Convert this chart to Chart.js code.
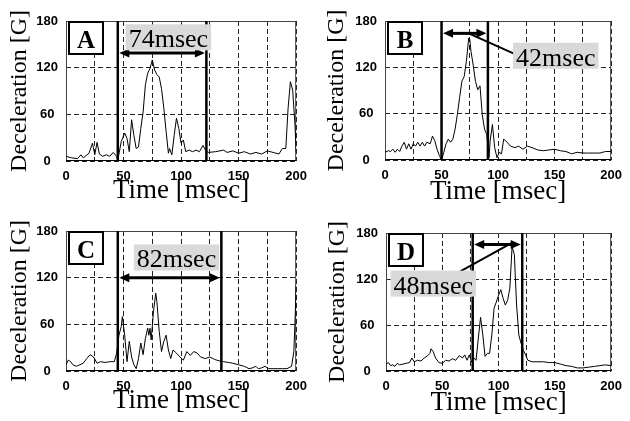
<!DOCTYPE html>
<html>
<head>
<meta charset="utf-8">
<script src="https://cdn.jsdelivr.net/npm/chart.js@4.4.1/dist/chart.umd.min.js"></script>
<style>
  html, body { margin: 0; padding: 0; background: #fff; }
  #wrap { position: relative; width: 630px; height: 421px; overflow: hidden; }
  canvas { position: absolute; }
</style>
</head>
<body>
<div id="wrap">
  <canvas id="chart-a" width="315" height="210" style="left:0;top:0"></canvas>
  <canvas id="chart-b" width="315" height="210" style="left:315px;top:0"></canvas>
  <canvas id="chart-c" width="315" height="211" style="left:0;top:210px"></canvas>
  <canvas id="chart-d" width="315" height="211" style="left:315px;top:210px"></canvas>
</div>
<script>
// Axis ticks
const xTickLabels = [0, 50, 100, 150, 200];
const yTickLabels = [0, 60, 120, 180];

// Panel A
const timeA = [0, 5, 10, 13, 15, 20, 23, 25, 27, 29, 32, 35, 38, 41, 44, 45, 48, 51, 53, 55,
  57, 59, 61, 63, 65, 67, 69, 71, 73, 75, 77, 79, 81, 83, 85, 87, 89, 90, 92, 94,
  96, 98, 100, 102, 104, 107, 110, 113, 116, 119, 122, 124, 130, 137, 140, 145, 150, 155, 160, 165,
  170, 175, 180, 185, 188, 191, 193, 195, 197, 199, 200];
const decelA = [6, 4, 3, 8, 4, 10, 23, 8, 24, 9, 6, 8, 6, 11, 6, 1, 25, 36, 29, 12,
  53, 33, 16, 18, 42, 63, 98, 113, 119, 130, 117, 111, 108, 93, 68, 38, 10, 16, 8, 33,
  55, 42, 23, 27, 12, 14, 12, 14, 12, 20, 12, 11, 12, 14, 11, 13, 10, 12, 9, 11,
  9, 13, 11, 9, 16, 16, 68, 102, 91, 46, 12];
const pulseA = [45, 122];

// Panel B
const timeB = [0, 3, 5, 7, 9, 11, 13, 15, 17, 19, 21, 23, 25, 27, 29, 31, 33, 35, 37, 40,
  42, 44, 46, 48, 50, 52, 54, 56, 58, 60, 62, 64, 66, 68, 70, 72, 74, 75, 76, 78,
  80, 82, 84, 86, 88, 90, 92, 93, 95, 97, 99, 101, 103, 105, 108, 111, 115, 118, 122, 126,
  130, 135, 140, 145, 150, 155, 160, 165, 170, 175, 180, 185, 190, 195, 200];
const decelB = [10, 12, 11, 14, 10, 14, 11, 18, 23, 14, 21, 14, 21, 18, 23, 18, 23, 18, 23, 21,
  31, 25, 14, 6, 0, 10, 21, 27, 23, 27, 40, 59, 81, 102, 108, 128, 158, 156, 141, 123,
  102, 91, 96, 59, 40, 33, 3, 25, 46, 16, 3, 10, 8, 27, 23, 18, 16, 18, 14, 18,
  16, 13, 12, 13, 14, 12, 11, 8, 10, 9, 9, 9, 9, 11, 11];
const pulseB = [50, 91];

// Panel C
const timeC = [0, 2, 4, 6, 9, 12, 15, 18, 21, 24, 27, 30, 34, 38, 42, 44, 46, 48, 49, 51,
  53, 55, 57, 59, 61, 63, 65, 67, 69, 71, 72, 73, 74, 76, 78, 79, 81, 83, 85, 87,
  89, 91, 93, 96, 99, 102, 105, 108, 111, 114, 117, 121, 125, 129, 133, 137, 141, 145, 150, 155,
  159, 162, 165, 167, 170, 173, 176, 180, 184, 188, 192, 196, 198, 199, 200];
const decelC = [8, 14, 12, 8, 6, 8, 10, 16, 21, 18, 10, 12, 11, 12, 12, 23, 46, 57, 70, 46,
  12, 38, 18, 8, 3, 16, 36, 21, 42, 55, 46, 55, 40, 76, 100, 89, 51, 25, 38, 46,
  27, 16, 27, 23, 18, 14, 25, 20, 25, 23, 18, 16, 18, 15, 13, 12, 11, 10, 8, 6,
  3, 4, 6, 3, 4, 6, 3, 3, 3, 3, 3, 6, 25, 63, 110];
const pulseC = [45, 135];

// Panel D
const timeD = [0, 2, 4, 6, 8, 10, 12, 15, 18, 21, 23, 25, 28, 31, 34, 37, 39, 40, 42, 44,
  47, 50, 53, 56, 59, 62, 65, 68, 70, 72, 74, 76, 78, 80, 82, 84, 86, 88, 90, 92,
  94, 96, 98, 100, 102, 104, 106, 108, 110, 112, 114, 116, 118, 120, 122, 124, 126, 130, 135, 140,
  145, 150, 155, 160, 165, 170, 175, 180, 185, 190, 195, 200];
const decelD = [9, 11, 7, 8, 6, 10, 8, 9, 10, 11, 17, 12, 14, 13, 17, 20, 23, 29, 25, 17,
  11, 10, 14, 13, 16, 14, 20, 17, 21, 14, 21, 12, 17, 14, 43, 70, 47, 19, 23, 23,
  47, 82, 90, 99, 106, 95, 86, 92, 108, 162, 152, 86, 47, 36, 27, 21, 14, 12, 12, 12,
  11, 11, 9, 7, 6, 4, 4, 5, 6, 7, 8, 7];
const pulseD = [77, 121];

const SERIF = '"Liberation Serif", "Times New Roman", serif';
const SANS = '"Liberation Sans", Arial, sans-serif';

// Frame, pulse lines, double arrow, duration label and panel letter
const pulsePlugin = {
  id: 'pulseMarks',
  beforeDatasetsDraw(chart) {
    const {ctx, chartArea: a} = chart;
    ctx.save();
    ctx.strokeStyle = '#444';
    ctx.lineWidth = 1;
    ctx.strokeRect(a.left + 0.5, a.top + 0.5, a.width - 1, a.height - 1);
    ctx.strokeStyle = '#000';
    ctx.beginPath();
    ctx.moveTo(a.left, a.bottom - 0.5);
    ctx.lineTo(a.right, a.bottom - 0.5);
    ctx.stroke();
    ctx.restore();
  },
  afterDatasetsDraw(chart, args, opts) {
    const {ctx, chartArea: a, scales: {x, y}} = chart;
    ctx.save();
    ctx.strokeStyle = '#000';
    ctx.fillStyle = '#000';

    // vertical pulse limits
    ctx.lineWidth = 2.5;
    const px = opts.pulse.map(v => x.getPixelForValue(v));
    px.forEach(p => {
      ctx.beginPath();
      ctx.moveTo(p, a.top);
      ctx.lineTo(p, a.bottom);
      ctx.stroke();
    });

    // double arrow
    const ay = y.getPixelForValue(opts.arrowY);
    const x1 = px[0] + 1.5, x2 = px[1] - 1.5;
    const head = 10, half = 4.5;
    ctx.lineWidth = 3;
    ctx.beginPath();
    ctx.moveTo(x1 + head - 1, ay);
    ctx.lineTo(x2 - head + 1, ay);
    ctx.stroke();
    ctx.beginPath();
    ctx.moveTo(x1, ay);
    ctx.lineTo(x1 + head, ay - half);
    ctx.lineTo(x1 + head, ay + half);
    ctx.closePath();
    ctx.moveTo(x2, ay);
    ctx.lineTo(x2 - head, ay - half);
    ctx.lineTo(x2 - head, ay + half);
    ctx.closePath();
    ctx.fill();

    // pointer line
    if (opts.pointer) {
      const [p0, p1] = opts.pointer;
      ctx.lineWidth = 2;
      ctx.beginPath();
      ctx.moveTo(x.getPixelForValue(p0.x), y.getPixelForValue(p0.y));
      ctx.lineTo(x.getPixelForValue(p1.x), y.getPixelForValue(p1.y));
      ctx.stroke();
    }

    // duration label on grey box
    ctx.font = '26px ' + SERIF;
    const w = ctx.measureText(opts.label.text).width + 6;
    const h = 26;
    const cx = x.getPixelForValue(opts.label.x);
    const cy = y.getPixelForValue(opts.label.y);
    ctx.fillStyle = '#d9d9d9';
    ctx.fillRect(cx - w / 2, cy - h / 2, w, h);
    ctx.fillStyle = '#000';
    ctx.textAlign = 'center';
    ctx.textBaseline = 'alphabetic';
    ctx.fillText(opts.label.text, cx, cy + h / 2 - 3);

    // panel letter
    ctx.fillStyle = '#fff';
    ctx.fillRect(a.left + 3, a.top + 1, 34, 32);
    ctx.lineWidth = 2;
    ctx.strokeStyle = '#000';
    ctx.strokeRect(a.left + 3, a.top + 1, 34, 32);
    ctx.fillStyle = '#000';
    ctx.font = 'bold 25px ' + SERIF;
    ctx.fillText(opts.letter, a.left + 20, a.top + 27);
    ctx.restore();
  }
};

function makePanel(id, times, values, pad, yWidth, xHeight, marks) {
  const points = times.map((t, i) => ({x: t, y: values[i]}));
  return new Chart(document.getElementById(id), {
    type: 'line',
    data: {
      datasets: [{
        data: points,
        borderColor: '#000',
        borderWidth: 1,
        pointRadius: 0,
        tension: 0,
        fill: false
      }]
    },
    options: {
      responsive: false,
      animation: false,
      events: [],
      layout: {padding: pad},
      plugins: {
        legend: {display: false},
        tooltip: {enabled: false},
        pulseMarks: marks
      },
      scales: {
        x: {
          type: 'linear',
          min: 0,
          max: 200,
          afterFit: s => { s.height = xHeight; },
          ticks: {
            stepSize: 25,
            autoSkip: false,
            maxRotation: 0,
            padding: 8,
            color: '#000',
            font: {family: SANS, size: 13, weight: 'bold'},
            callback: v => xTickLabels.includes(v) ? String(v) : ''
          },
          grid: {color: '#222', lineWidth: 1, drawTicks: false},
          border: {display: false, dash: [5, 3]},
          title: {
            display: true,
            text: 'Time [msec]',
            color: '#000',
            padding: 0,
            font: {family: SERIF, size: 27, lineHeight: 1}
          }
        },
        y: {
          min: 0,
          max: 180,
          afterFit: s => { s.width = yWidth; },
          ticks: {
            stepSize: 60,
            autoSkip: false,
            padding: 8,
            crossAlign: 'center',
            color: '#000',
            font: {family: SANS, size: 13, weight: 'bold'},
            callback: v => yTickLabels.includes(v) ? String(v) : ''
          },
          grid: {color: '#222', lineWidth: 1, drawTicks: false},
          border: {display: false, dash: [5, 3]},
          title: {
            display: true,
            text: 'Deceleration [G]',
            color: '#000',
            padding: 0,
            font: {family: SERIF, size: 24, lineHeight: 1}
          }
        }
      }
    },
    plugins: [pulsePlugin]
  });
}

makePanel('chart-a', timeA, decelA, {left: 8, right: 13, top: 21, bottom: 5.5}, 58, 43.5, {
  letter: 'A', pulse: pulseA, arrowY: 139,
  label: {text: '74msec', x: 89, y: 159}
});
makePanel('chart-b', timeB, decelB, {left: 10, right: 10, top: 21, bottom: 5}, 60, 45, {
  letter: 'B', pulse: pulseB, arrowY: 164,
  label: {text: '42msec', x: 151, y: 135},
  pointer: [{x: 74, y: 164}, {x: 115, y: 137}]
});
makePanel('chart-c', timeC, decelC, {left: 8, right: 13, top: 21, bottom: 6.5}, 58, 43.5, {
  letter: 'C', pulse: pulseC, arrowY: 120,
  label: {text: '82msec', x: 96, y: 146}
});
makePanel('chart-d', timeD, decelD, {left: 10.5, right: 10, top: 23, bottom: 5}, 60.5, 45, {
  letter: 'D', pulse: pulseD, arrowY: 165,
  label: {text: '48msec', x: 42, y: 114},
  pointer: [{x: 66, y: 130}, {x: 113, y: 168}]
});
</script>
</body>
</html>
